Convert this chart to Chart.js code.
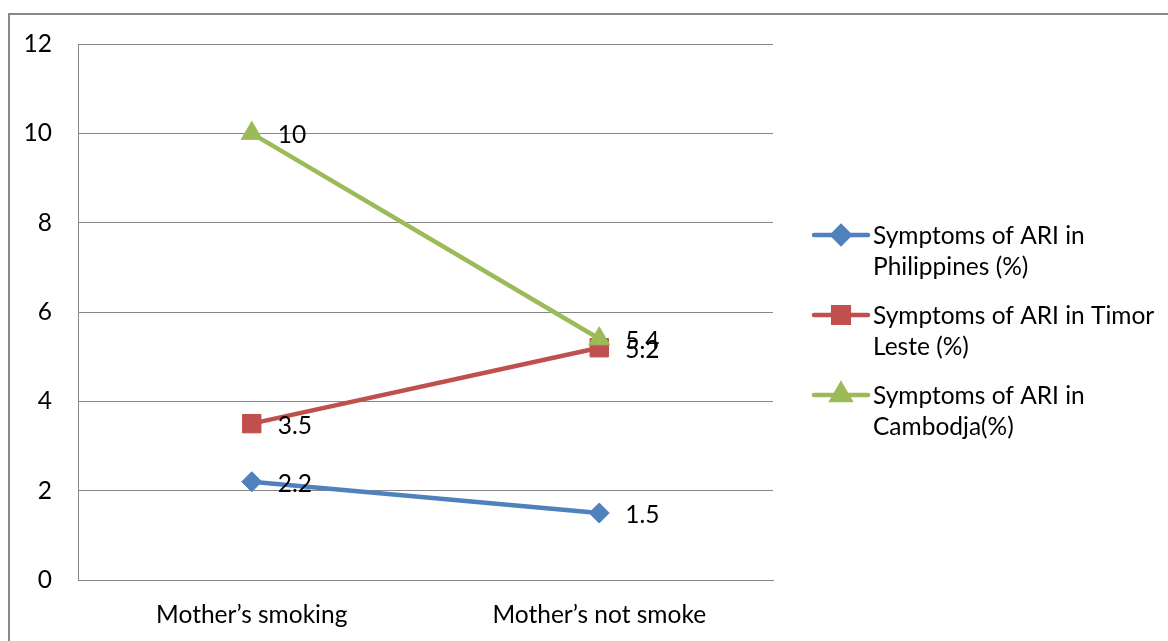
<!DOCTYPE html>
<html>
<head>
<meta charset="utf-8">
<script src="https://cdn.jsdelivr.net/npm/chart.js@4/dist/chart.umd.min.js"></script>
<style>
  html, body { margin: 0; padding: 0; background: #fff; }
  #wrap { position: relative; width: 1168px; height: 641px; overflow: hidden; }
  #frame { position: absolute; left: 8px; top: 13px; width: 1300px; height: 800px;
           border-left: 2px solid #888; border-top: 2px solid #888; box-sizing: border-box; }
  #box { position: absolute; left: 0; top: 0; width: 1168px; height: 641px; }
</style>
</head>
<body>
<div id="wrap">
  <div id="frame"></div>
  <div id="box"><canvas id="chart"></canvas></div>
</div>
<script>
// ARI symptoms vs mother's smoking — line chart with right-hand legend

const categories = ['Mother\u2019s smoking', 'Mother\u2019s not smoke'];
const philippines = [2.2, 1.5];
const timorLeste = [3.5, 5.2];
const cambodja = [10, 5.4];
const seriesNames = [
  'Symptoms of ARI in Philippines (%)',
  'Symptoms of ARI in Timor Leste (%)',
  'Symptoms of ARI in Cambodja(%)'
];
const yTicks = [0, 2, 4, 6, 8, 10, 12];

const FONT = 'Lato, "Open Sans", sans-serif';
const FS = 24.5;

// values printed to the right of each point
const pointLabels = {
  id: 'pointLabels',
  afterDatasetsDraw(chart) {
    const ctx = chart.ctx;
    ctx.save();
    ctx.font = `${FS}px ${FONT}`;
    ctx.fillStyle = '#000';
    ctx.textBaseline = 'middle';
    ctx.textAlign = 'left';
    chart.data.datasets.forEach((ds, i) => {
      chart.getDatasetMeta(i).data.forEach((pt, j) => {
        ctx.fillText(String(ds.data[j]), pt.x + 26, pt.y + 2);
      });
    });
    ctx.restore();
  }
};

// excel-like legend with wrapped text
const sideLegend = {
  id: 'sideLegend',
  afterDraw(chart) {
    const ctx = chart.ctx;
    ctx.save();
    ctx.font = `${FS}px ${FONT}`;
    ctx.textBaseline = 'middle';
    ctx.textAlign = 'left';
    const lineX0 = 814, lineX1 = 868, textX = 873, maxW = 292;
    let y = 235;
    chart.data.datasets.forEach(ds => {
      // wrap words
      const words = ds.label.split(' ');
      const lines = [];
      let cur = '';
      words.forEach(w => {
        const t = cur ? cur + ' ' + w : w;
        if (ctx.measureText(t).width > maxW && cur) { lines.push(cur); cur = w; }
        else cur = t;
      });
      lines.push(cur);

      ctx.strokeStyle = ds.borderColor;
      ctx.lineWidth = 4.5;
      ctx.lineCap = 'round';
      ctx.beginPath();
      ctx.moveTo(lineX0, y); ctx.lineTo(lineX1, y);
      ctx.stroke();
      ctx.fillStyle = ds.pointBackgroundColor;
      ctx.strokeStyle = ds.pointBorderColor;
      Chart.helpers.drawPoint(ctx, {
        pointStyle: ds.pointStyle, radius: ds.legendRadius, rotation: 0, borderWidth: 1
      }, (lineX0 + lineX1) / 2, y);

      ctx.fillStyle = '#000';
      lines.forEach((l, k) => ctx.fillText(l, textX, y + k * 31 + 1));
      y += 80;
    });
    ctx.restore();
  }
};

function series(label, data, color, style, radius, order) {
  return {
    label, data, order,
    borderColor: color,
    backgroundColor: color,
    borderWidth: 4.5,
    pointStyle: style,
    pointRadius: radius,
    pointHoverRadius: radius,
    legendRadius: radius * 0.85,
    pointBackgroundColor: color,
    pointBorderColor: color,
    pointBorderWidth: 1,
    tension: 0
  };
}

new Chart(document.getElementById('chart'), {
  type: 'line',
  data: {
    labels: categories,
    datasets: [
      series(seriesNames[0], philippines, '#4F81BD', 'rectRot', 10, 2),
      series(seriesNames[1], timorLeste, '#C0504D', 'rect', 13, 1),
      series(seriesNames[2], cambodja, '#9BBB59', 'triangle', 12, 0)
    ]
  },
  options: {
    responsive: true,
    maintainAspectRatio: false,
    animation: false,
    layout: { padding: { left: 0, top: 44, right: 395, bottom: 0 } },
    plugins: { legend: { display: false }, tooltip: { enabled: false } },
    scales: {
      x: {
        offset: true,
        grid: { display: false, drawTicks: false },
        border: { display: true, color: '#868686', width: 1 },
        ticks: { color: '#000', font: { family: FONT, size: FS }, padding: 20 },
        afterFit(s) { s.height = 61; }
      },
      y: {
        min: 0, max: 12,
        afterBuildTicks(s) { s.ticks = yTicks.map(v => ({ value: v })); },
        grid: { color: '#868686', lineWidth: 1, drawTicks: false },
        border: { display: true, color: '#868686', width: 1 },
        ticks: { color: '#000', font: { family: FONT, size: FS }, padding: 26 },
        afterFit(s) { s.width = 78; }
      }
    }
  },
  plugins: [pointLabels, sideLegend]
});
</script>
</body>
</html>
